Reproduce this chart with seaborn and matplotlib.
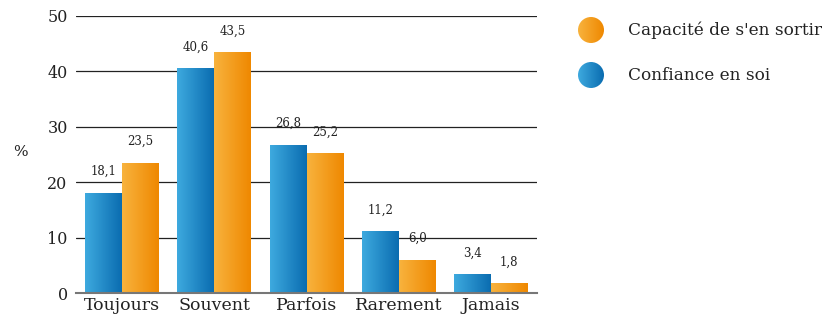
import numpy as np
import pandas as pd
import matplotlib
matplotlib.use("Agg")
import matplotlib.pyplot as plt
import seaborn as sns
from matplotlib.colors import LinearSegmentedColormap
from matplotlib.patches import Circle

categories = ["Toujours", "Souvent", "Parfois", "Rarement", "Jamais"]
confiance = [18.1, 40.6, 26.8, 11.2, 3.4]
capacite = [23.5, 43.5, 25.2, 6.0, 1.8]
series_names = ["Confiance en soi", "Capacité de s'en sortir"]
yticks = [0, 10, 20, 30, 40, 50]

blue_cmap = LinearSegmentedColormap.from_list("b", ["#3eaadf", "#0a6cb0"])
orange_cmap = LinearSegmentedColormap.from_list("o", ["#f8b33e", "#ef8800"])
cmaps = [blue_cmap, orange_cmap]

df = pd.DataFrame({
    "cat": categories * 2,
    "val": confiance + capacite,
    "serie": [series_names[0]] * 5 + [series_names[1]] * 5,
})

sns.set_theme(style="white")
plt.rcParams["font.family"] = ["DejaVu Serif"]

fig = plt.figure(figsize=(8.26, 3.18), dpi=100)
ax = fig.add_axes([76 / 826, 1 - 293 / 318, 461 / 826, 277 / 318])

sns.barplot(data=df, x="cat", y="val", hue="serie", hue_order=series_names,
            order=categories, width=0.8, ax=ax, legend=False, errorbar=None,
            palette=["#1f8bd0", "#f39c1a"], saturation=1)

grad = np.linspace(0, 1, 256).reshape(1, -1)
for ci, cont in enumerate(ax.containers):
    for patch in cont:
        x0, y0 = patch.get_x(), patch.get_y()
        w, h = patch.get_width(), patch.get_height()
        patch.set_facecolor("none")
        patch.set_edgecolor("none")
        im = ax.imshow(grad, cmap=cmaps[ci], aspect="auto",
                       extent=[x0, x0 + w, y0, y0 + h], zorder=2,
                       interpolation="bilinear")
        im.set_clip_path(patch)
        ax.annotate(f"{h:.1f}".replace(".", ","), (x0 + w / 2, h),
                    xytext=(0, 10.5), textcoords="offset points",
                    ha="center", va="bottom", fontsize=8.5, color="#222222")

ax.set_xlim(-0.5, 4.5)
ax.set_ylim(0, 50)
ax.set_yticks(yticks)
ax.set_yticklabels([str(t) for t in yticks], fontsize=11.5, color="#222222")
ax.tick_params(axis="x", labelsize=12.5, colors="#222222", length=0, pad=3)
ax.tick_params(axis="y", length=0, pad=6)
ax.set_xlabel("")
ax.set_ylabel("")
for t in yticks[1:]:
    ax.axhline(t, color="#222222", lw=0.9, zorder=1)
for s in ["top", "right", "left"]:
    ax.spines[s].set_visible(False)
ax.spines["bottom"].set_color("#777777")
ax.spines["bottom"].set_linewidth(1.5)
ax.spines["bottom"].set_zorder(3)

fig.text(20 / 826, 1 - 152 / 318, "%", fontsize=11, ha="center", va="center",
         color="#222222")

# legend
lax = fig.add_axes([0, 0, 1, 1], facecolor="none")
lax.set_xlim(0, 826)
lax.set_ylim(318, 0)
lax.axis("off")
leg_items = [(series_names[1], cmaps[1], 30), (series_names[0], cmaps[0], 75)]
for name, cm, yy in leg_items:
    c = Circle((591, yy), 13, transform=lax.transData, facecolor="none",
               edgecolor="none")
    lax.add_patch(c)
    im = lax.imshow(grad, cmap=cm, aspect="auto",
                    extent=[578, 604, yy + 13, yy - 13],
                    interpolation="bilinear")
    im.set_clip_path(c)
    lax.text(628, yy, name, fontsize=12.2, va="center", ha="left",
             color="#222222")
lax.set_xlim(0, 826)
lax.set_ylim(318, 0)

fig.savefig("out.png", dpi=100)
